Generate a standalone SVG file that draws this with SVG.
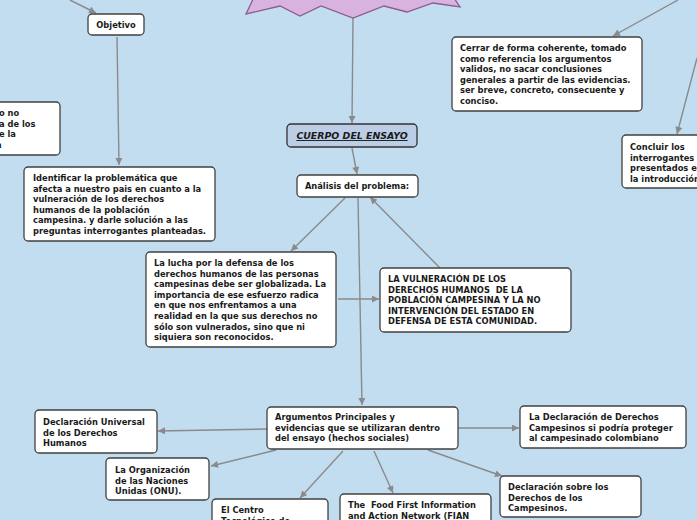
<svg xmlns="http://www.w3.org/2000/svg" width="697" height="520" viewBox="0 0 697 520">
<defs>
<marker id="ah" viewBox="0 0 10 10" refX="10" refY="5" markerWidth="8" markerHeight="7" markerUnits="userSpaceOnUse" orient="auto">
<path d="M0,0 L10,5 L0,10 z" fill="#8a8a8a"/>
</marker>
<style>
.bg{fill:#c3ddf0}
.box{fill:#ffffff;stroke:#404040;stroke-width:1.3}
.main{fill:#bccde6;stroke:#333333;stroke-width:1.3}
.t{font-family:"DejaVu Sans",Verdana,sans-serif;font-weight:bold;font-size:8.3px;fill:#1a1a1a}
.c{text-anchor:middle}
.ct{font-family:"DejaVu Sans",Verdana,sans-serif;font-weight:bold;font-style:italic;font-size:9.4px;fill:#1a1a1a;text-decoration:underline;text-anchor:middle}
.ln{fill:none;stroke:#8a8a8a;stroke-width:1.4;marker-end:url(#ah)}
.pl{fill:none;stroke:#8a8a8a;stroke-width:1.4}
</style>
</defs>
<rect class="bg" x="0" y="0" width="697" height="520"/>

<g id="connectors">
<line class="ln" x1="70" y1="0" x2="96" y2="13"/>
<line class="ln" x1="117" y1="37" x2="119" y2="165"/>
<line class="ln" x1="678" y1="0" x2="613" y2="36"/>
<line class="ln" x1="697" y1="58" x2="677" y2="134"/>
<line class="ln" x1="353" y1="18" x2="352" y2="123"/>
<line class="ln" x1="352" y1="148" x2="357" y2="174"/>
<line class="ln" x1="345" y1="198" x2="291" y2="251"/>
<line class="ln" x1="358" y1="198" x2="362" y2="405"/>
<line class="ln" x1="440" y1="268" x2="370" y2="197"/>
<line class="ln" x1="338" y1="299" x2="379" y2="299"/>
<line class="ln" x1="267" y1="429" x2="158" y2="431"/>
<line class="ln" x1="276" y1="450" x2="211" y2="466"/>
<line class="ln" x1="343" y1="451" x2="300" y2="498"/>
<line class="ln" x1="374" y1="451" x2="393" y2="493"/>
<line class="ln" x1="458" y1="428" x2="519" y2="428"/>
<line class="ln" x1="428" y1="450" x2="502" y2="476"/>
</g>

<g id="topic">
<polygon points="255,-5 246,14 280,6 300,16 321,6 353,18 384,6 407,12 433,3 460,7 452,-5" fill="#d9b3e0" stroke="#8a5c8e" stroke-width="1.3"/>
</g>

<g id="objetivo">
<rect class="box" x="88" y="14" width="56" height="21" rx="4"/>
<text class="t c" x="116" y="27.5">Objetivo</text>
</g>

<g id="left-partial">
<rect class="box" x="-20" y="102" width="80" height="53" rx="4"/>
<text class="t" x="-1" y="116">o no<tspan x="-1" dy="10.6">a de los</tspan><tspan x="-1" dy="10.6">e la</tspan><tspan x="-4" dy="10.6">a</tspan></text>
</g>

<g id="identificar">
<rect class="box" x="24" y="167" width="191" height="74" rx="4"/>
<text class="t" x="33" y="181">Identificar la problemática que<tspan x="33" dy="10.6">afecta a nuestro pais en cuanto a la</tspan><tspan x="33" dy="10.6">vulneración de los derechos</tspan><tspan x="33" dy="10.6">humanos de la población</tspan><tspan x="33" dy="10.6">campesina. y darle solución a las</tspan><tspan x="33" dy="10.6">preguntas interrogantes planteadas.</tspan></text>
</g>

<g id="cerrar">
<rect class="box" x="452" y="37" width="190" height="74" rx="4"/>
<text class="t" x="460" y="51">Cerrar de forma coherente, tomado<tspan x="460" dy="10.6">como referencia los argumentos</tspan><tspan x="460" dy="10.6">validos, no sacar conclusiones</tspan><tspan x="460" dy="10.6">generales a partir de las evidencias.</tspan><tspan x="460" dy="10.6">ser breve, concreto, consecuente y</tspan><tspan x="460" dy="10.6">conciso.</tspan></text>
</g>

<g id="concluir">
<rect class="box" x="622" y="135" width="100" height="53" rx="4"/>
<text class="t" x="630" y="150">Concluir los<tspan x="630" dy="10.6">interrogantes</tspan><tspan x="630" dy="10.6">presentados en</tspan><tspan x="630" dy="10.6">la introducción</tspan></text>
</g>

<g id="cuerpo">
<rect class="main" x="287" y="124" width="130" height="23" rx="4"/>
<text class="ct" x="352" y="139">CUERPO DEL ENSAYO</text>
</g>

<g id="analisis">
<rect class="box" x="297" y="175" width="121" height="22" rx="4"/>
<text class="t c" x="357" y="189">Análisis del problema:</text>
</g>

<g id="lucha">
<rect class="box" x="146" y="252" width="190" height="95" rx="4"/>
<text class="t" x="154" y="266">La lucha por la defensa de los<tspan x="154" dy="10.6">derechos humanos de las personas</tspan><tspan x="154" dy="10.6">campesinas debe ser globalizada. La</tspan><tspan x="154" dy="10.6">importancia de ese esfuerzo radica</tspan><tspan x="154" dy="10.6">en que nos enfrentamos a una</tspan><tspan x="154" dy="10.6">realidad en la que sus derechos no</tspan><tspan x="154" dy="10.6">sólo son vulnerados, sino que ni</tspan><tspan x="154" dy="10.6">siquiera son reconocidos.</tspan></text>
</g>

<g id="vulneracion">
<rect class="box" x="380" y="268" width="191" height="64" rx="4"/>
<text class="t" x="388" y="282">LA VULNERACIÓN DE LOS<tspan x="388" dy="10.6" xml:space="preserve">DERECHOS HUMANOS  DE LA</tspan><tspan x="388" dy="10.6">POBLACIÓN CAMPESINA Y LA NO</tspan><tspan x="388" dy="10.6">INTERVENCIÓN DEL ESTADO EN</tspan><tspan x="388" dy="10.6">DEFENSA DE ESTA COMUNIDAD.</tspan></text>
</g>

<g id="argumentos">
<rect class="box" x="267" y="407" width="191" height="42" rx="4"/>
<text class="t" x="275" y="420">Argumentos Principales y<tspan x="275" dy="10.6">evidencias que se utilizaran dentro</tspan><tspan x="275" dy="10.6">del ensayo (hechos sociales)</tspan></text>
</g>

<g id="declaracion-universal">
<rect class="box" x="35" y="410" width="122" height="43" rx="4"/>
<text class="t" x="43" y="425">Declaración Universal<tspan x="43" dy="10.6">de los Derechos</tspan><tspan x="43" dy="10.6">Humanos</tspan></text>
</g>

<g id="onu">
<rect class="box" x="106" y="458" width="103" height="42" rx="4"/>
<text class="t" x="115" y="473">La Organización<tspan x="115" dy="10.6">de las Naciones</tspan><tspan x="115" dy="10.6">Unidas (ONU).</tspan></text>
</g>

<g id="centro">
<rect class="box" x="212" y="499" width="116" height="40" rx="4"/>
<text class="t" x="221" y="513">El Centro<tspan x="221" dy="10.6">Tecnológico de</tspan></text>
</g>

<g id="fian">
<rect class="box" x="340" y="494" width="151" height="40" rx="4"/>
<text class="t" x="348" y="508" xml:space="preserve">The  Food First Information<tspan x="348" dy="10.6">and Action Network (FIAN</tspan></text>
</g>

<g id="declaracion-campesinos">
<rect class="box" x="520" y="406" width="166" height="42" rx="4"/>
<text class="t" x="529" y="420">La Declaración de Derechos<tspan x="529" dy="10.6">Campesinos si podría proteger</tspan><tspan x="529" dy="10.6">al campesinado colombiano</tspan></text>
</g>

<g id="declaracion-sobre">
<rect class="box" x="500" y="476" width="141" height="41" rx="4"/>
<text class="t" x="508" y="490">Declaración sobre los<tspan x="508" dy="10.6">Derechos de los</tspan><tspan x="508" dy="10.6">Campesinos.</tspan></text>
</g>
</svg>
